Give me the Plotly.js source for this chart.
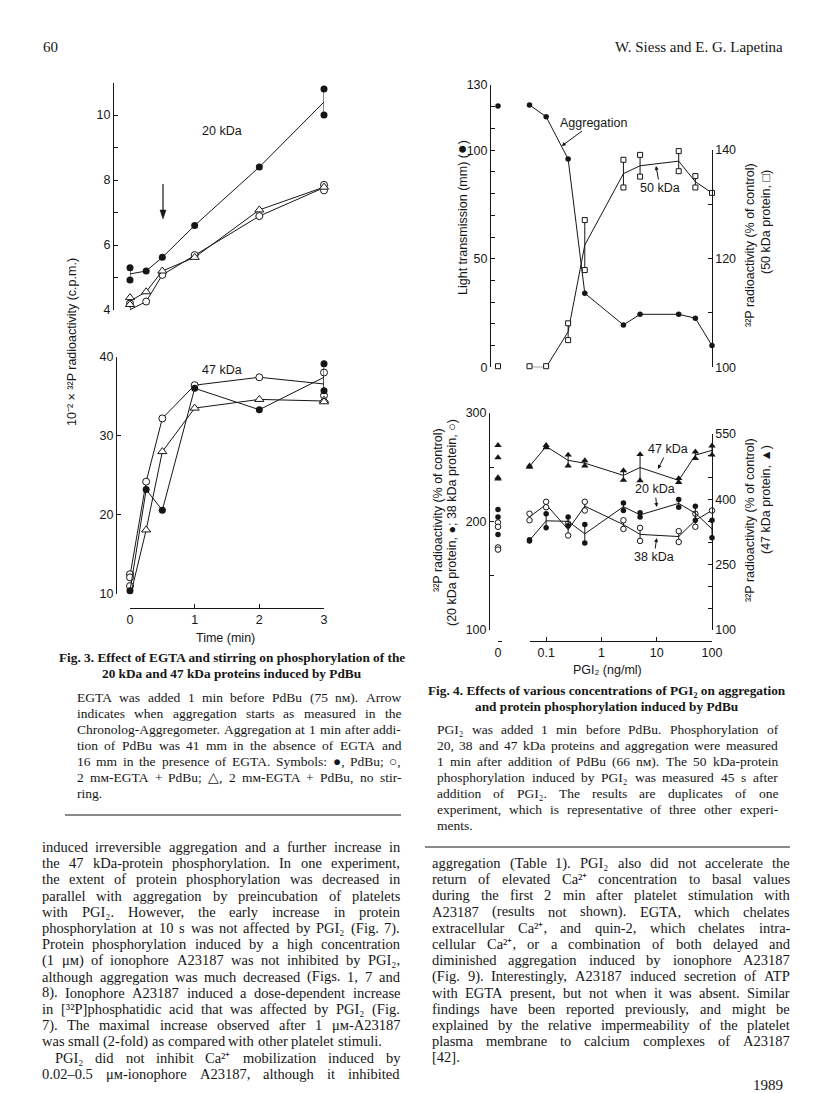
<!DOCTYPE html>
<html><head><meta charset="utf-8">
<script src="https://cdn.plot.ly/plotly-3.0.1.min.js"></script>
<style>html,body{margin:0;padding:0;background:#fff}#chart{width:816px;height:1093px}</style>
</head><body><div id="chart"></div>
<script>
// ===== Fig. 3 data (time in min; 10^-2 x c.p.m.) =====
const fig3Time = [0, 0.25, 0.5, 1, 2, 3];
const p20_PdBu_a   = [5.30, 5.20, 5.62, 6.60, 8.40, 10.80];
const p20_PdBu_b   = [4.92, null, null, null, null, 10.00];
const p20_EGTA_a   = [4.20, 4.26, 5.08, 5.69, 6.89, 7.85];
const p20_EGTA_b   = [3.82, null, null, null, null, 7.68];
const p20_NoStir_a = [4.38, 4.56, 5.20, 5.62, 7.08, 7.78];
const p20_NoStir_b = [4.17, null, null, null, null, null];
const p47_PdBu_a   = [10.4, 23.2, 20.6, 36.0, 33.3, 39.1];
const p47_PdBu_b   = [null, null, null, null, null, 35.7];
const p47_EGTA_a   = [12.5, 24.2, 32.2, 36.4, 37.4, 38.0];
const p47_EGTA_b   = [12.1, null, null, null, null, 35.1];
const p47_EGTA_extra = [11.0];
const p47_NoStir_a = [9.6, 18.1, 28.0, 33.5, 34.6, 34.5];
const p47_NoStir_b = [null, null, null, null, null, 34.3];

// ===== Fig. 4 data (PGI2 ng/ml) =====
const pgiConc = [0.05, 0.1, 0.25, 0.5, 2.5, 5, 25, 50, 100];
const aggregation = [120.8, 115.4, 95.9, 34.1, 19.5, 24.4, 24.4, 22.6, 10.0];
const aggregationControl = [120.3];
const kda50_a = [100.2, 100.2, 108.1, 127.1, 138.2, 139.1, 139.8, 135.2, 132.1];
const kda50_b = [99.8, 99.8, 105.0, 117.9, 133.1, 135.1, 136.1, 133.1, null];
const kda50_control = [100.2, 99.8];
const kda47_a = [477, 524, 502, 489, 466, 503, 448, 509, 523];
const kda47_b = [474, 519, 477, 477, 444, 443, 439, 494, 502];
const kda47_control = [524, 496, 450, 447];
const kda20_a = [183, 207, 204, 197, 217, 208, 220, 214, 201];
const kda20_b = [182, 194, 196, 180, 210, 204, 213, 201, 185];
const kda20_control = [211, 204, 188];
const kda38_a = [207, 218, 198, 218, 201, 194, 191, 207, 210];
const kda38_b = [201, 213, 187, 210, 193, 182, 181, 195, null];
const kda38_control = [199, 195, 176, 174];

// tick values
const t3topLab = [4, 6, 8, 10], t3topMinor = [5, 7, 9, 11];
const t3bot = [10, 20, 30, 40];
const t4aggLab = [0, 50, 100, 130], t4aggMinor = [10, 20, 30, 40, 60, 70, 80, 90, 110, 120];
const t4k50Lab = [100, 120, 140], t4k50Minor = [110, 130];
const t4leftLab = [100, 200, 300], t4leftMinor = [150, 250];
const t4rightLab = [100, 250, 400, 550], t4rightMinor = [150, 200, 300, 350, 450, 500];
const t4xLab = [0.1, 1, 10, 100], t4xMinor = [0.05];

// ===== page geometry helpers =====
const W = 816, H = 1093;
const px = v => v / W;
const py = v => 1 - v / H;
const SANS = 'Liberation Sans, Arial, sans-serif';
const SERIF = 'Liberation Serif';
const INK = '#161616';

const traces = [];
function mean(a, b) { return a.map((v, i) => (b[i] == null ? v : (v + b[i]) / 2)); }
function addSeries(x, a, b, xa, ya, mk, capW) {
  const m = mean(a, b);
  const hi = a.map((v, i) => (b[i] == null ? 0 : Math.max(v, b[i]) - m[i]));
  const lo = a.map((v, i) => (b[i] == null ? 0 : m[i] - Math.min(v, b[i])));
  traces.push({x: x, y: m, xaxis: xa, yaxis: ya, mode: 'lines', cliponaxis: false,
    line: {color: INK, width: 1},
    error_y: {type: 'data', symmetric: false, array: hi, arrayminus: lo, width: capW, thickness: 1, color: INK},
    hoverinfo: 'skip', showlegend: false});
  [a, b].forEach(arr => {
    const xs = [], ys = [];
    arr.forEach((v, i) => { if (v != null) { xs.push(x[i]); ys.push(v); } });
    if (xs.length) traces.push({x: xs, y: ys, xaxis: xa, yaxis: ya, mode: 'markers', cliponaxis: false,
      marker: mk, hoverinfo: 'skip', showlegend: false});
  });
}
function addPoints(vals, xa, ya, mk) {
  traces.push({x: vals.map(() => 0), y: vals, xaxis: xa, yaxis: ya, mode: 'markers', cliponaxis: false,
    marker: mk, hoverinfo: 'skip', showlegend: false});
}

const mFill3 = {symbol: 'circle', size: 7, color: INK, line: {width: 0}};
const mOpen3 = {symbol: 'circle', size: 7, color: '#fff', line: {width: 1, color: INK}};
const mTri3  = {symbol: 'triangle-up', size: 8, color: '#fff', line: {width: 1, color: INK}};
const mFill4 = {symbol: 'circle', size: 5.5, color: INK, line: {width: 0}};
const mOpen4 = {symbol: 'circle', size: 5.5, color: '#fff', line: {width: 1, color: INK}};
const mTri4  = {symbol: 'triangle-up', size: 6.5, color: INK, line: {width: 0}};
const mSq4   = {symbol: 'square', size: 5, color: '#fff', line: {width: 1, color: INK}};

// Fig 3 top (20 kDa) on x / y2, bottom (47 kDa) on x / y
addSeries(fig3Time, p20_EGTA_a, p20_EGTA_b, 'x', 'y2', mOpen3, 0);
addSeries(fig3Time, p20_NoStir_a, p20_NoStir_b, 'x', 'y2', mTri3, 0);
addSeries(fig3Time, p20_PdBu_a, p20_PdBu_b, 'x', 'y2', mFill3, 0);
addSeries(fig3Time, p47_EGTA_a, p47_EGTA_b, 'x', 'y', mOpen3, 0);
addPoints(p47_EGTA_extra, 'x', 'y', mOpen3);
addSeries(fig3Time, p47_NoStir_a, p47_NoStir_b, 'x', 'y', mTri3, 0);
addSeries(fig3Time, p47_PdBu_a, p47_PdBu_b, 'x', 'y', mFill3, 0);

// Fig 4 top: aggregation (y3) and 50 kDa (y4); bottom: 20/38 kDa (y5), 47 kDa (y6)
addSeries(pgiConc, aggregation, aggregation.map(() => null), 'x2', 'y3', mFill4, 0);
addPoints(aggregationControl, 'x3', 'y3', mFill4);
addSeries(pgiConc, kda50_a, kda50_b, 'x2', 'y4', mSq4, 2);
addPoints(kda50_control, 'x3', 'y4', mSq4);
addSeries(pgiConc, kda47_a, kda47_b, 'x2', 'y6', mTri4, 2);
addPoints(kda47_control, 'x3', 'y6', mTri4);
addSeries(pgiConc, kda38_a, kda38_b, 'x2', 'y5', mOpen4, 2);
addPoints(kda38_control, 'x3', 'y5', mOpen4);
addSeries(pgiConc, kda20_a, kda20_b, 'x2', 'y5', mFill4, 2);
addPoints(kda20_control, 'x3', 'y5', mFill4);

// ===== axes =====
const tickFont = {family: SANS, size: 12.5, color: INK};
function ax(o, minorVals) {
  const a = Object.assign({anchor: 'free', showline: true, linecolor: INK, linewidth: 1, ticks: 'inside',
    ticklen: 4, tickwidth: 1, tickcolor: INK, showgrid: false, zeroline: false, tickfont: tickFont,
    tickmode: 'array', fixedrange: true}, o);
  if (minorVals) a.minor = {tickmode: 'array', tickvals: minorVals, ticks: 'inside', ticklen: 4,
    tickwidth: 1, tickcolor: INK, showgrid: false};
  return a;
}

const layout = {
  width: W, height: H, margin: {l: 0, r: 0, t: 0, b: 0},
  paper_bgcolor: '#fff', plot_bgcolor: 'rgba(0,0,0,0)', showlegend: false,
  xaxis: ax({domain: [px(130), px(324)], range: [0, 3], position: py(608), tickvals: [0, 1, 2, 3]}),
  yaxis: ax({domain: [py(594), py(356.7)], range: [10, 40], position: px(116), tickvals: t3bot}),
  yaxis2: ax({domain: [py(310), py(82.5)], range: [4, 11], position: px(113), tickvals: t3topLab}, t3topMinor),
  xaxis2: ax({type: 'log', domain: [px(529.5), px(712)], range: [Math.log10(0.05), 2], position: py(640.5),
    tickvals: t4xLab, ticktext: ['0.1', '1', '10', '100']}, t4xMinor),
  xaxis3: ax({domain: [px(498), px(502)], range: [0, 1], position: py(640.5), tickvals: [0], ticktext: ['0']}),
  yaxis3: ax({domain: [py(367.3), py(85)], range: [0, 130], position: px(490), tickvals: t4aggLab}, t4aggMinor),
  yaxis4: ax({domain: [py(367.3), py(150)], range: [100, 140], position: px(711.7), side: 'right',
    tickvals: t4k50Lab}, t4k50Minor),
  yaxis5: ax({domain: [py(630), py(412.7)], range: [100, 300], position: px(489), tickvals: t4leftLab}, t4leftMinor),
  yaxis6: ax({domain: [py(630), py(434)], range: [100, 550], position: px(711.7), side: 'right',
    tickvals: t4rightLab}, t4rightMinor),
  annotations: [],
  shapes: [
    {type: 'line', xref: 'paper', yref: 'paper', x0: px(65), x1: px(401), y0: py(815), y1: py(815), line: {color: INK, width: 1}},
    {type: 'line', xref: 'paper', yref: 'paper', x0: px(425), x1: px(790), y0: py(847), y1: py(847), line: {color: INK, width: 1}},
    // Fig. 3 arrow marking onset of aggregation
    {type: 'line', xref: 'paper', yref: 'paper', x0: px(163), x1: px(163), y0: py(184), y1: py(212), line: {color: INK, width: 1.2}},
    {type: 'path', xref: 'paper', yref: 'paper',
      path: 'M ' + px(160) + ' ' + py(210) + ' L ' + px(166) + ' ' + py(210) + ' L ' + px(163) + ' ' + py(219) + ' Z',
      fillcolor: INK, line: {color: INK, width: 0.5}}
  ]
};
const A = layout.annotations;

function txt(text, x, y, o) {
  A.push(Object.assign({text: text, x: px(x), y: py(y), xref: 'paper', yref: 'paper', showarrow: false,
    xanchor: 'center', yanchor: 'middle', borderpad: 0, font: {family: SANS, size: 12.5, color: INK}}, o || {}));
}
// label whose arrow points from the text to (tipX, tipY)
function arrowLabel(text, cx, cy, tipX, tipY) {
  A.push({text: text, x: px(tipX), y: py(tipY), xref: 'paper', yref: 'paper', showarrow: true,
    ax: cx - tipX, ay: cy - tipY, arrowhead: 2, arrowsize: 0.8, arrowwidth: 1, arrowcolor: INK,
    standoff: 0, startstandoff: 1, borderpad: 0, font: {family: SANS, size: 12.5, color: INK}});
}

// Fig 3 labels
txt('20 kDa', 222, 131);
txt('47 kDa', 222, 370);
txt('Time (min)', 225, 638);
txt('10⁻² × ³²P radioactivity (c.p.m.)', 72, 342, {textangle: -90});

// Fig 4 labels
arrowLabel('Aggregation', 593, 123, 561.7, 146);
arrowLabel('50 kDa', 660, 188, 656, 166);
arrowLabel('47 kDa', 668, 449, 658, 469);
arrowLabel('20 kDa', 655, 489, 656.7, 507);
arrowLabel('38 kDa', 654, 557, 656.7, 538);
txt('Light transmission (mm) (<span style="font-size:16px">●</span>)', 461, 218, {textangle: -90});
txt('³²P radioactivity (% of control)', 750, 245, {textangle: -90});
txt('(50 kDa protein, □)', 766, 222, {textangle: -90});
txt('³²P radioactivity (% of control)', 438, 510, {textangle: -90});
txt('(20 kDa protein, ●; 38 kDa protein, ○)', 452, 523, {textangle: -90});
txt('³²P radioactivity (% of control)', 750, 520, {textangle: -90});
txt('(47 kDa protein, ▲)', 766, 500, {textangle: -90});
txt('PGI₂ (ng/ml)', 607, 670);

// ===== page text =====
const cv = document.createElement('canvas').getContext('2d');
function measure(s, size, bold) {
  cv.font = (bold ? 'bold ' : '') + size + 'px "' + SERIF + '"';
  return cv.measureText(s).width;
}
function block(lines, x0, x1, y0, dy, size) {
  const sp = measure(' ', size, false);
  lines.forEach((ln, i) => {
    const o = typeof ln === 'string' ? {t: ln} : ln;
    const y = y0 + i * dy, xs = x0 + (o.indent || 0);
    const words = o.t.split(' ').filter(w => w.length);
    const ws = words.map(w => measure(w, size, false));
    const sum = ws.reduce((a, b) => a + b, 0);
    const gap = (o.nojust || words.length < 2) ? sp : (x1 - xs - sum) / (words.length - 1);
    let x = xs;
    words.forEach((w, j) => {
      A.push({text: w, x: px(x), y: py(y), xref: 'paper', yref: 'paper', showarrow: false,
        xanchor: 'left', yanchor: 'middle', borderpad: 0, borderwidth: 0,
        font: {family: SERIF, size: size, color: INK}});
      x += ws[j] + gap;
    });
  });
}

// header / footer
txt('60', 42, 47, {xanchor: 'left', font: {family: SERIF, size: 15, color: INK}});
txt('W. Siess and E. G. Lapetina', 784, 47, {xanchor: 'right', font: {family: SERIF, size: 15, color: INK}});
txt('1989', 784, 1085, {xanchor: 'right', font: {family: SERIF, size: 15, color: INK}});

// captions
const capT = {font: {family: SERIF, size: 13.3, color: INK}};
txt('<b>Fig. 3. Effect of EGTA and stirring on phosphorylation of the</b>', 232, 657, capT);
txt('<b>20 kDa and 47 kDa proteins induced by PdBu</b>', 232, 673, capT);
txt('<b>Fig. 4. Effects of various concentrations of PGI₂ on aggregation</b>', 607, 690, capT);
txt('<b>and protein phosphorylation induced by PdBu</b>', 607, 706, capT);

block([
  'EGTA was added 1 min before PdBu (75 nм). Arrow',
  'indicates when aggregation starts as measured in the',
  'Chronolog-Aggregometer. Aggregation at 1 min after addi-',
  'tion of PdBu was 41 mm in the absence of EGTA and',
  '16 mm in the presence of EGTA. Symbols: ●, PdBu; ○,',
  '2 mм-EGTA + PdBu; △, 2 mм-EGTA + PdBu, no stir-',
  {t: 'ring.', nojust: true}
], 77, 401, 697, 16, 13.5);

block([
  'PGI₂ was added 1 min before PdBu. Phosphorylation of',
  '20, 38 and 47 kDa proteins and aggregation were measured',
  '1 min after addition of PdBu (66 nм). The 50 kDa-protein',
  'phosphorylation induced by PGI₂ was measured 45 s after',
  'addition of PGI₂. The results are duplicates of one',
  'experiment, which is representative of three other experi-',
  {t: 'ments.', nojust: true}
], 437, 778, 729, 16, 13.5);

block([
  'induced irreversible aggregation and a further increase in',
  'the 47 kDa-protein phosphorylation. In one experiment,',
  'the extent of protein phosphorylation was decreased in',
  'parallel with aggregation by preincubation of platelets',
  'with PGI₂. However, the early increase in protein',
  'phosphorylation at 10 s was not affected by PGI₂ (Fig. 7).',
  'Protein phosphorylation induced by a high concentration',
  '(1 μм) of ionophore A23187 was not inhibited by PGI₂,',
  'although aggregation was much decreased (Figs. 1, 7 and',
  '8). Ionophore A23187 induced a dose-dependent increase',
  'in [³²P]phosphatidic acid that was affected by PGI₂ (Fig.',
  '7). The maximal increase observed after 1 μм-A23187',
  {t: 'was small (2-fold) as compared with other platelet stimuli.', nojust: true},
  {t: 'PGI₂ did not inhibit Ca²⁺ mobilization induced by', indent: 13},
  '0.02–0.5 μм-ionophore A23187, although it inhibited'
], 42, 400, 847, 16.2, 14.5);

block([
  'aggregation (Table 1). PGI₂ also did not accelerate the',
  'return of elevated Ca²⁺ concentration to basal values',
  'during the first 2 min after platelet stimulation with',
  'A23187 (results not shown). EGTA, which chelates',
  'extracellular Ca²⁺, and quin-2, which chelates intra-',
  'cellular Ca²⁺, or a combination of both delayed and',
  'diminished aggregation induced by ionophore A23187',
  '(Fig. 9). Interestingly, A23187 induced secretion of ATP',
  'with EGTA present, but not when it was absent. Similar',
  'findings have been reported previously, and might be',
  'explained by the relative impermeability of the platelet',
  'plasma membrane to calcium complexes of A23187',
  {t: '[42].', nojust: true}
], 432, 790, 863, 16.2, 14.5);

Plotly.newPlot('chart', traces, layout, {staticPlot: true, displayModeBar: false});
</script>
</body></html>
